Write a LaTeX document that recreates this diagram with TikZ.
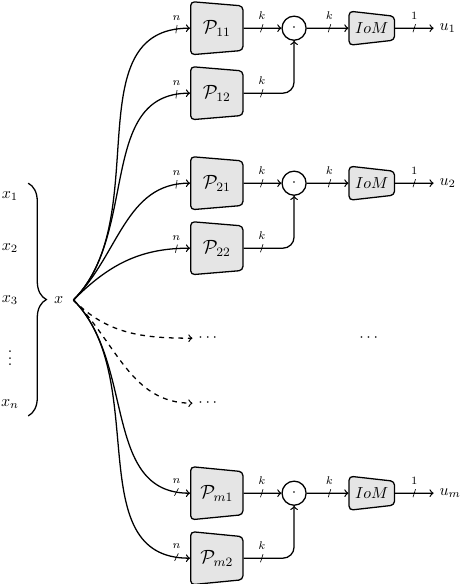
\documentclass[tikz,border=0pt]{standalone}
\usepackage{amsmath,amssymb,amsfonts}
\usepackage{tikz}
\usetikzlibrary{shapes.geometric,decorations.pathreplacing,decorations.markings}

\begin{document}
\begin{tikzpicture}[>={to}, thick,
	blk/.style={trapezium, shape border rotate=270, trapezium left angle=82, trapezium right angle=82, trapezium stretches body, minimum width=1.17cm, minimum height=1.15cm, draw, fill=gray!20, rounded corners=2.5pt, inner sep=1pt, font=\large},
	iom/.style={trapezium, shape border rotate=270, trapezium left angle=82, trapezium right angle=82, trapezium stretches body, minimum width=0.75cm, minimum height=1.0cm, draw, fill=gray!20, rounded corners=2.5pt, inner sep=1pt},
	prod/.style={draw, circle, minimum size=0.53cm, inner sep=0pt},
	bus/.style 2 args={postaction={decorate}, decoration={markings, mark=at position #1 with {\draw[-, thin] (-0.8pt,-2.5pt) -- (0.8pt,2.5pt); \node[above=4pt, font=\scriptsize, inner sep=1pt] {$#2$};}}}]
	\useasboundingbox (0, 0) rectangle (10.164, -12.848);

	\node (x1) at (0.22, -4.31) {$x_1$};
	\node (x2) at (0.22, -5.46) {$x_2$};
	\node (x3) at (0.22, -6.60) {$x_3$};
	\node (xv) at (0.22, -7.78) {$\vdots$};
	\node (xn) at (0.22, -8.89) {$x_n$};
	\coordinate (bt) at (0.62, -4.03);
	\coordinate (bb) at (0.62, -9.15);
	\draw[decorate, decoration={brace, amplitude=0.4cm}] (bt) -- (bb);
	\node[inner xsep=6pt] (x) at (1.29, -6.60) {$x$};

	\node[blk] (p11) at (4.77, -0.62) {$\mathcal{P}_{11}$};
	\node[blk] (p12) at (4.77, -2.05) {$\mathcal{P}_{12}$};
	\node[prod] (c1) at (6.47, -0.62) {$\cdot$};
	\node[iom] (f1) at (8.18, -0.62) {$IoM$};
	\node[anchor=west] (u1) at (9.54, -0.62) {$u_1$};

	\node[blk] (p21) at (4.77, -4.03) {$\mathcal{P}_{21}$};
	\node[blk] (p22) at (4.77, -5.46) {$\mathcal{P}_{22}$};
	\node[prod] (c2) at (6.47, -4.03) {$\cdot$};
	\node[iom] (f2) at (8.18, -4.03) {$IoM$};
	\node[anchor=west] (u2) at (9.54, -4.03) {$u_2$};

	\node (d1) at (4.6, -7.44) {$\cdots$};
	\node (d2) at (4.6, -8.87) {$\cdots$};
	\node (d3) at (8.14, -7.44) {$\cdots$};

	\node[blk] (pm1) at (4.77, -10.85) {$\mathcal{P}_{m1}$};
	\node[blk] (pm2) at (4.77, -12.28) {$\mathcal{P}_{m2}$};
	\node[prod] (cm) at (6.47, -10.85) {$\cdot$};
	\node[iom] (fm) at (8.18, -10.85) {$IoM$};
	\node[anchor=west] (um) at (9.54, -10.85) {$u_m$};

	\draw[->, bus={-0.3cm}{n}] (x.east) to[out=45, in=180] (p11);
	\draw[->, bus={-0.3cm}{n}] (x.east) to[out=45, in=180] (p12);
	\draw[->, bus={-0.3cm}{n}] (x.east) to[out=45, in=180] (p21);
	\draw[->, bus={-0.3cm}{n}] (x.east) to[out=45, in=180] (p22);
	\draw[->, dashed] (x.east) to[out=-45, in=180] (d1);
	\draw[->, dashed] (x.east) to[out=-45, in=180] (d2);
	\draw[->, bus={-0.3cm}{n}] (x.east) to[out=-45, in=180] (pm1);
	\draw[->, bus={-0.3cm}{n}] (x.east) to[out=-45, in=180] (pm2);

	\draw[->, bus={0.4cm}{k}] (p11) -- (c1);
	\draw[->, rounded corners=7pt, bus={0.4cm}{k}] (p12.east) -| (c1.south);
	\draw[->, bus={0.5cm}{k}] (c1) -- (f1);
	\draw[->, bus={0.42cm}{1}] (f1) -- (u1);

	\draw[->, bus={0.4cm}{k}] (p21) -- (c2);
	\draw[->, rounded corners=7pt, bus={0.4cm}{k}] (p22.east) -| (c2.south);
	\draw[->, bus={0.5cm}{k}] (c2) -- (f2);
	\draw[->, bus={0.42cm}{1}] (f2) -- (u2);

	\draw[->, bus={0.4cm}{k}] (pm1) -- (cm);
	\draw[->, rounded corners=7pt, bus={0.4cm}{k}] (pm2.east) -| (cm.south);
	\draw[->, bus={0.5cm}{k}] (cm) -- (fm);
	\draw[->, bus={0.42cm}{1}] (fm) -- (um);
\end{tikzpicture}
\end{document}
